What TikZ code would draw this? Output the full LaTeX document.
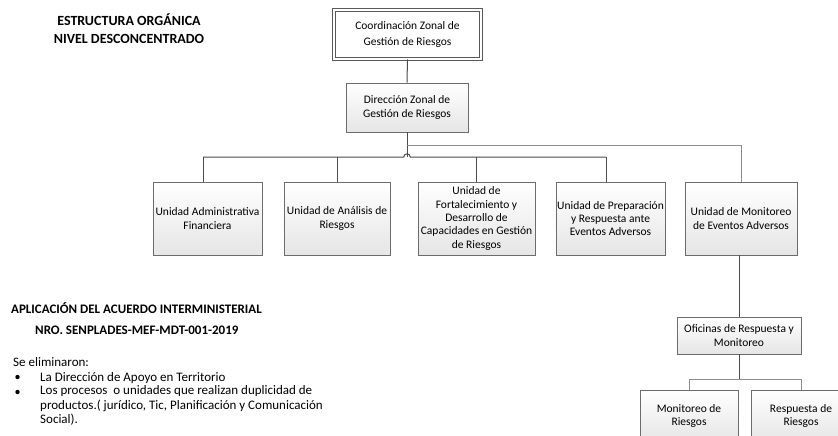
\documentclass[tikz,border=0pt]{standalone}
\usepackage{fontspec}
\setmainfont{Carlito}
\usetikzlibrary{shadows}
\begin{document}
\begin{tikzpicture}[x=1pt,y=-1pt,
  box/.style={draw=gray!85!black, line width=0.7pt, top color=white, bottom color=gray!20,
    drop shadow={shadow xshift=1.3pt,shadow yshift=-1.3pt,opacity=0.35,fill=gray},
    align=center, font=\fontsize{11.5}{13.4}\selectfont, inner sep=1pt, rectangle},
  conn/.style={draw=black!70, line width=1pt},
  lconn/.style={draw=black!45, line width=1pt},
  head/.style={font=\fontsize{13}{18}\selectfont\bfseries, inner sep=0pt},
  body/.style={font=\fontsize{13}{14.6}\selectfont, inner sep=0pt, anchor=base west}]
\useasboundingbox (0,0) rectangle (838,436);
\clip (0,0) rectangle (838,436);
\fill[white] (0,0) rectangle (838,436);

% headings
\node[head, align=center, font=\fontsize{14}{18}\selectfont\bfseries] (title) at (129,29) {ESTRUCTURA ORGÁNICA\\NIVEL DESCONCENTRADO};

% top box
\node[box, top color=white, bottom color=white, draw=gray!70!black, double=white, double distance=2pt, line width=0.7pt,
  minimum width=147pt, minimum height=49pt, font=\fontsize{11.5}{16}\selectfont] (coord) at (407.5,34.5)
  {Coordinación Zonal de\\Gestión de Riesgos};

\node[box, minimum width=122pt, minimum height=49pt] (dir) at (407,107.5) {Dirección Zonal de\\Gestión de Riesgos};

\node[box, minimum width=109pt, minimum height=73pt] (u1) at (207.5,218.5) {Unidad Administrativa\\Financiera};
\node[box, minimum width=106pt, minimum height=73pt] (u2) at (337,218.5) {Unidad de Análisis de\\Riesgos};
\node[box, minimum width=117pt, minimum height=73pt] (u3) at (476.5,218.5) {Unidad de\\Fortalecimiento y\\Desarrollo de\\Capacidades en Gestión\\de Riesgos};
\node[box, minimum width=109pt, minimum height=73pt] (u4) at (610.5,218.5) {Unidad de Preparación\\y Respuesta ante\\Eventos Adversos};
\node[box, minimum width=112pt, minimum height=73pt] (u5) at (741,218.5) {Unidad de Monitoreo\\de Eventos Adversos};

\node[box, minimum width=124pt, minimum height=37pt] (ofi) at (739,335.5) {Oficinas de Respuesta y\\Monitoreo};
\node[box, minimum width=98pt, minimum height=52pt] (mr) at (689,416) {Monitoreo de\\Riesgos};
\node[box, minimum width=100pt, minimum height=52pt] (rr) at (801,416) {Respuesta de\\Riesgos};

% connectors
\draw[conn] (coord.south) -- (dir.north);
\coordinate (hop) at (407,157);
\coordinate (side) at (407,145);
\draw[conn] (dir.south) -- (hop);
\draw[lconn] (side) -- (side -| u5.north) -- (u5.north);
\coordinate (b1) at (203,157);
\coordinate (b2) at (337,157);
\coordinate (b3) at (476.5,157);
\coordinate (b4) at (606,157);
\draw[conn] (b1) -- ([xshift=-3.2pt]hop) arc (180:360:3.2) -- (b4);
\draw[conn] (b1) -- (b1 |- u1.north);
\draw[conn] (b2) -- (u2.north);
\draw[conn] (b3) -- (u3.north);
\draw[conn] (b4) -- (b4 |- u4.north);
\draw[conn] (u5.south -| ofi.north) -- (ofi.north);
\coordinate (ob) at (739,379);
\draw[conn] (ofi.south) -- (ob);
\draw[lconn] (mr.north |- ob) -- (rr.north |- ob);
\draw[lconn] (mr.north |- ob) -- (mr.north);
\draw[lconn] (rr.north |- ob) -- (rr.north);

% notes
\node[head, anchor=base west] (apl) at (11,313) {APLICACIÓN DEL ACUERDO INTERMINISTERIAL};
\node[head, anchor=base west] (nro) at (35,334) {NRO. SENPLADES-MEF-MDT-001-2019};
\node[body] (se) at (13,366) {Se eliminaron:};
\node[body] (i1) at (40,381.5) {La Dirección de Apoyo en Territorio};
\node[body, align=left, anchor=north west] (i2) at (40,385.5) {Los procesos\ \ o unidades que realizan duplicidad de\\productos.( jurídico, Tic, Planificación y Comunicación\\Social).};
\fill[black] (17.5,377) circle (2.2);
\fill[black] (17.5,392) circle (2.2);
\end{tikzpicture}
\end{document}
